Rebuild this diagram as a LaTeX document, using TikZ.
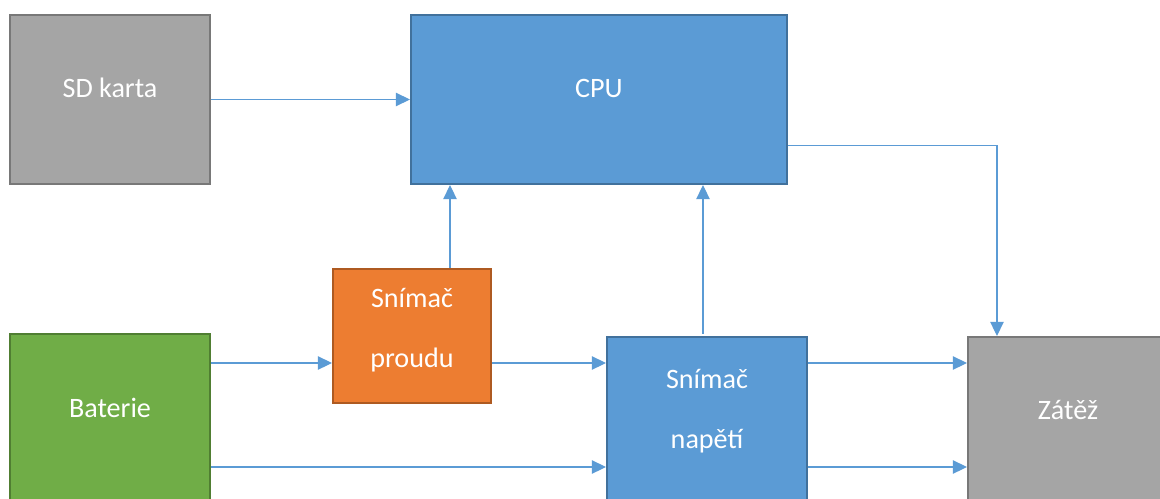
\documentclass[tikz,border=0pt]{standalone}
\usepackage{fontspec}
\setmainfont{Carlito}
\usepackage{tikz}
\usetikzlibrary{arrows.meta}

\definecolor{blueF}{HTML}{5B9BD5}
\definecolor{blueD}{HTML}{41719C}
\definecolor{grayF}{HTML}{A5A5A5}
\definecolor{grayD}{HTML}{787878}
\definecolor{orangeF}{HTML}{ED7D31}
\definecolor{orangeD}{HTML}{AE5A21}
\definecolor{greenF}{HTML}{70AD47}
\definecolor{greenD}{HTML}{507E32}

\tikzset{
  box/.style={shape=rectangle, draw, line width=1.4pt, inner sep=0pt},
  txt/.style={text=white, align=center, font=\fontsize{20}{42.5}\selectfont},
  arr/.style={draw=blueF, line width=0.8pt, -{Triangle[length=10pt,width=9.5pt]}}
}

\begin{document}
\begin{tikzpicture}[x=0.025cm,y=-0.025cm]
                        \useasboundingbox (0,0) rectangle (1160,499);
                        \clip (0,0) rectangle (1160,499);

                        \node[box, fill=grayF, draw=grayD, minimum width=5cm, minimum height=4.225cm] (sd) at (110,99.5) {};
                        \node[box, fill=blueF, draw=blueD, minimum width=9.4cm, minimum height=4.225cm] (cpu) at (599,99.5) {};
                        \node[box, fill=orangeF, draw=orangeD, minimum width=3.95cm, minimum height=3.35cm] (sp) at (412,336) {};
                        \node[box, fill=greenF, draw=greenD, minimum width=5cm, minimum height=4.9cm] (bat) at (110,432) {};
                        \node[box, fill=blueF, draw=blueD, minimum width=5cm, minimum height=4.825cm] (sn) at (707,433.5) {};
                        \node[box, fill=grayF, draw=grayD, minimum width=5.3cm, minimum height=4.825cm] (zat) at (1074,433.5) {};

                        \node[txt] (sdt) at (110,88) {SD karta};
                        \node[txt] (cput) at (599,88) {CPU};
                        \node[txt] (spt) at (412,330) {Snímač\\proudu};
                        \node[txt] (batt) at (110,408) {Baterie};
                        \node[txt] (snt) at (707,411) {Snímač\\napětí};
                        \node[txt] (zatt) at (1068,410) {Zátěž};

                        \coordinate (sp-in) at ([yshift=-0.675cm]sp.west);
                        \coordinate (sp-out) at ([yshift=-0.675cm]sp.east);
                        \coordinate (sn-low) at ([yshift=-0.8375cm]sn.west);
                        \coordinate (sn-lowout) at ([yshift=-0.8375cm]sn.east);
                        \coordinate (cpu-out) at ([yshift=-1.14cm]cpu.east);
                        \coordinate (zat-in) at ([xshift=-1.925cm]zat.north);
                        \coordinate (sp-up) at ([xshift=0.95cm]sp.north);
                        \coordinate (sn-up) at ([xshift=-0.1cm,yshift=0.05cm]sn.north);

                        \path[arr] (sd.east) -- (cpu.west);
                        \path[arr] (sp-up) -- (sp-up |- cpu.south);
                        \path[arr] (sn-up) -- (sn-up |- cpu.south);
                        \path[arr] (cpu-out) -| (zat-in);
                        \path[arr] (bat.east |- sp-in) -- (sp-in);
                        \path[arr] (sp-out) -- (sn.west |- sp-out);
                        \path[arr] (bat.east |- sn-low) -- (sn-low);
                        \path[arr] (sn.east |- sp-in) -- (zat.west |- sp-in);
                        \path[arr] (sn-lowout) -- (zat.west |- sn-lowout);
                    \end{tikzpicture}
\end{document}
